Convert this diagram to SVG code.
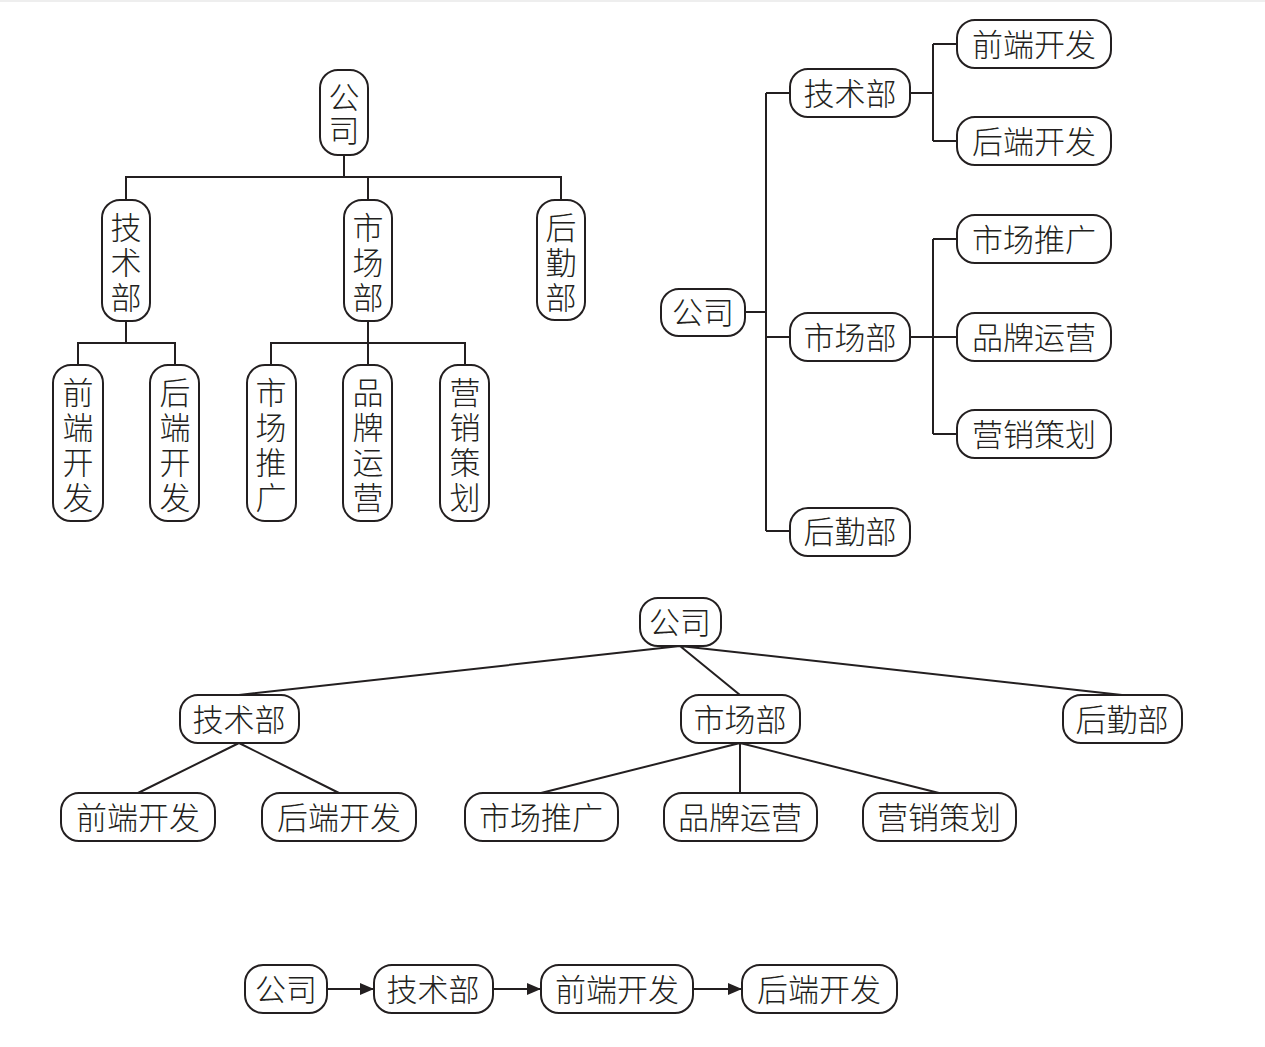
<svg xmlns="http://www.w3.org/2000/svg" width="1265" height="1047" viewBox="0 0 1265 1047">
<style>
.n{fill:#fff;stroke:#231f20;stroke-width:2}
.t{font-family:"Noto Sans CJK SC",sans-serif;font-size:31px;font-weight:300;fill:#231f20;text-anchor:middle;dominant-baseline:central}
.c{fill:none;stroke:#231f20;stroke-width:2}
</style>
<defs><marker id="a" markerWidth="14" markerHeight="12" refX="13" refY="6" orient="auto" markerUnits="userSpaceOnUse"><path d="M0,0 L14,6 L0,12Z" fill="#231f20"/></marker></defs>
<rect width="1265" height="1047" fill="#fff"/>
<line x1="0" y1="1" x2="1265" y2="1" stroke="#ddd"/>
<g id="connectors">
<path class="c" d="M344,155V177M126,200V177H561V200M368,177V200M126,321V343M78,365V343H175V365M368,321V343M271,365V343H465V365M368,343V365"/>
<path class="c" d="M745,312H766M766,93V531M766,93H790M766,337H790M766,531H790M910,93H933M933,44V141M933,44H957M933,141H957M910,337H957M933,239V434M933,239H957M933,434H957"/>
<path class="c" d="M680,646L239,695M680,646L740,695M680,646L1122,695M239,743L138,793M239,743L339,793M740,743L541,793M740,743V793M740,743L939,793"/>
<path class="c" marker-end="url(#a)" d="M327,989H373"/>
<path class="c" marker-end="url(#a)" d="M493,989H540"/>
<path class="c" marker-end="url(#a)" d="M693,989H741"/>
</g>
<g id="n1"><rect class="n" x="320" y="70" width="48" height="85" rx="18"/><text class="t" x="344" y="95">公</text><text class="t" x="344" y="128">司</text></g>
<g id="n2"><rect class="n" x="102" y="200" width="48" height="121" rx="18"/><text class="t" x="126" y="225">技</text><text class="t" x="126" y="260">术</text><text class="t" x="126" y="295">部</text></g>
<g id="n3"><rect class="n" x="344" y="200" width="48" height="121" rx="18"/><text class="t" x="368" y="225">市</text><text class="t" x="368" y="260">场</text><text class="t" x="368" y="295">部</text></g>
<g id="n4"><rect class="n" x="537" y="200" width="48" height="120" rx="18"/><text class="t" x="561" y="225">后</text><text class="t" x="561" y="260">勤</text><text class="t" x="561" y="295">部</text></g>
<g id="n5"><rect class="n" x="53" y="365" width="50" height="156" rx="18"/><text class="t" x="78" y="390">前</text><text class="t" x="78" y="425">端</text><text class="t" x="78" y="460">开</text><text class="t" x="78" y="495">发</text></g>
<g id="n6"><rect class="n" x="150" y="365" width="49" height="156" rx="18"/><text class="t" x="175" y="390">后</text><text class="t" x="175" y="425">端</text><text class="t" x="175" y="460">开</text><text class="t" x="175" y="495">发</text></g>
<g id="n7"><rect class="n" x="247" y="365" width="49" height="156" rx="18"/><text class="t" x="271" y="390">市</text><text class="t" x="271" y="425">场</text><text class="t" x="271" y="460">推</text><text class="t" x="271" y="495">广</text></g>
<g id="n8"><rect class="n" x="343" y="365" width="49" height="156" rx="18"/><text class="t" x="368" y="390">品</text><text class="t" x="368" y="425">牌</text><text class="t" x="368" y="460">运</text><text class="t" x="368" y="495">营</text></g>
<g id="n9"><rect class="n" x="440" y="365" width="49" height="156" rx="18"/><text class="t" x="465" y="390">营</text><text class="t" x="465" y="425">销</text><text class="t" x="465" y="460">策</text><text class="t" x="465" y="495">划</text></g>
<g id="r1"><rect class="n" x="661" y="289" width="84" height="47" rx="18"/><text class="t" x="703" y="310">公司</text></g>
<g id="r2"><rect class="n" x="790" y="69" width="120" height="48" rx="18"/><text class="t" x="850" y="91">技术部</text></g>
<g id="r3"><rect class="n" x="790" y="313" width="120" height="48" rx="18"/><text class="t" x="850" y="335">市场部</text></g>
<g id="r4"><rect class="n" x="790" y="508" width="120" height="48" rx="18"/><text class="t" x="850" y="529">后勤部</text></g>
<g id="r5"><rect class="n" x="957" y="20" width="154" height="48" rx="18"/><text class="t" x="1034" y="42">前端开发</text></g>
<g id="r6"><rect class="n" x="957" y="117" width="154" height="48" rx="18"/><text class="t" x="1034" y="139">后端开发</text></g>
<g id="r7"><rect class="n" x="957" y="215" width="154" height="48" rx="18"/><text class="t" x="1034" y="237">市场推广</text></g>
<g id="r8"><rect class="n" x="957" y="313" width="154" height="48" rx="18"/><text class="t" x="1034" y="335">品牌运营</text></g>
<g id="r9"><rect class="n" x="957" y="410" width="154" height="48" rx="18"/><text class="t" x="1034" y="432">营销策划</text></g>
<g id="b1"><rect class="n" x="640" y="598" width="81" height="48" rx="18"/><text class="t" x="680" y="620">公司</text></g>
<g id="b2"><rect class="n" x="180" y="695" width="119" height="48" rx="18"/><text class="t" x="239" y="717">技术部</text></g>
<g id="b3"><rect class="n" x="681" y="695" width="119" height="48" rx="18"/><text class="t" x="740" y="717">市场部</text></g>
<g id="b4"><rect class="n" x="1063" y="695" width="119" height="48" rx="18"/><text class="t" x="1122" y="717">后勤部</text></g>
<g id="b5"><rect class="n" x="61" y="793" width="154" height="48" rx="18"/><text class="t" x="138" y="815">前端开发</text></g>
<g id="b6"><rect class="n" x="262" y="793" width="154" height="48" rx="18"/><text class="t" x="339" y="815">后端开发</text></g>
<g id="b7"><rect class="n" x="465" y="793" width="153" height="48" rx="18"/><text class="t" x="541" y="815">市场推广</text></g>
<g id="b8"><rect class="n" x="664" y="793" width="153" height="48" rx="18"/><text class="t" x="740" y="815">品牌运营</text></g>
<g id="b9"><rect class="n" x="863" y="793" width="153" height="48" rx="18"/><text class="t" x="939" y="815">营销策划</text></g>
<g id="c1"><rect class="n" x="245" y="965" width="82" height="48" rx="18"/><text class="t" x="286" y="987">公司</text></g>
<g id="c2"><rect class="n" x="374" y="965" width="119" height="48" rx="18"/><text class="t" x="433" y="987">技术部</text></g>
<g id="c3"><rect class="n" x="541" y="965" width="152" height="48" rx="18"/><text class="t" x="617" y="987">前端开发</text></g>
<g id="c4"><rect class="n" x="742" y="965" width="155" height="48" rx="18"/><text class="t" x="819" y="987">后端开发</text></g>
</svg>
